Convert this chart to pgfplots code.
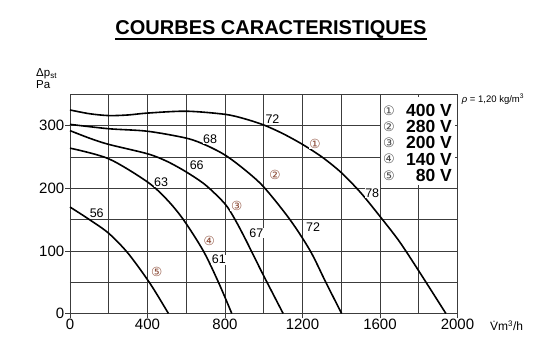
\documentclass[border=0pt]{standalone}
\usepackage{fontspec}
\setmainfont{Liberation Sans}
\newfontfamily\dejavu{DejaVu Sans}
\usepackage{pgfplots}
\pgfplotsset{compat=1.18}
\definecolor{circ}{RGB}{140,75,55}
\definecolor{gridc}{RGB}{60,60,60}
\begin{document}
\begin{tikzpicture}[x=1pt,y=1pt]
\path[use as bounding box] (-70,-33.5) rectangle (469,313.5);
\begin{axis}[at={(0,0)}, anchor=south west, scale only axis,
  width=387.5pt, height=219.2pt,
  xmin=0, xmax=2000, ymin=0, ymax=350,
  xtick={0,400,...,2000}, minor xtick={200,600,...,1800},
  ytick={0,100,200,300}, minor ytick={50,150,250},
  grid=both,
  major grid style={gridc, line width=0.7pt},
  minor grid style={gridc, line width=0.7pt},
  axis line style={gridc, line width=0.8pt},
  tick align=outside, major tick length=5pt, minor tick length=0pt,
  xtick pos=bottom, ytick pos=left,
  tick style={gridc, line width=0.7pt},
  ticklabel style={font=\fontsize{15}{15}\selectfont},
  /pgf/number format/assume math mode=true,
  /pgf/number format/1000 sep={},
  clip=false,
  nodes={font=\fontsize{12.5}{12.5}\selectfont, fill=white, inner sep=0.6pt},
]
\addplot[black, line width=1.6pt, smooth] coordinates {
(0,325) (100,319) (200,316) (300,317) (400,320) (600,323) (800,318) (900,311)
(1000,301) (1100,287) (1200,270) (1300,250) (1400,225) (1500,193) (1600,155)
(1700,115) (1800,68) (1940,0)};
\addplot[black, line width=1.6pt, smooth] coordinates {
(0,302) (200,295) (400,291) (600,280) (700,269) (800,253) (900,230) (1000,202)
(1135,150) (1240,100) (1320,50) (1402,0)};
\addplot[black, line width=1.6pt, smooth] coordinates {
(0,292) (100,280) (200,270) (400,255) (500,243) (600,226) (700,205) (800,175)
(850,151) (900,122) (950,91) (1000,60) (1100,0)};
\addplot[black, line width=1.6pt, smooth] coordinates {
(0,264) (200,247) (400,210) (500,182) (585,150) (688,100) (766,50) (835,0)};
\addplot[black, line width=1.6pt, smooth] coordinates {
(0,170) (100,150) (200,128) (300,96) (413,48) (508,0)};
\fill[white] (axis cs:1605,205) rectangle (axis cs:1985,345);
\node at (axis cs:1045,310) {72};
\node at (axis cs:1560,192) {78};
\node at (axis cs:723,279) {68};
\node at (axis cs:1255,138) {72};
\node at (axis cs:654,237) {66};
\node at (axis cs:962,128) {67};
\node at (axis cs:470,210) {63};
\node at (axis cs:768,86) {61};
\node at (axis cs:138,160) {56};
\node[text=circ, font=\dejavu\fontsize{12.5}{12.5}\selectfont] at (axis cs:1265,271) {①};
\node[text=circ, font=\dejavu\fontsize{12.5}{12.5}\selectfont] at (axis cs:1058,221) {②};
\node[text=circ, font=\dejavu\fontsize{12.5}{12.5}\selectfont] at (axis cs:860,172) {③};
\node[text=circ, font=\dejavu\fontsize{12.5}{12.5}\selectfont] at (axis cs:719,116) {④};
\node[text=circ, font=\dejavu\fontsize{12.5}{12.5}\selectfont] at (axis cs:447,67) {⑤};
\end{axis}
% title
\node[anchor=base, inner sep=0pt, font=\fontsize{20}{20}\selectfont\bfseries] (T) at (201,278.5) {COURBES CARACTERISTIQUES};
\draw[line width=1.8pt] ([yshift=-4pt]T.base west) -- ([yshift=-4pt]T.base east);
% axis labels
\node[anchor=base west, inner sep=0pt, font=\fontsize{11.5}{11.5}\selectfont] at (-34,237) {Δp\textsubscript{st}};
\node[anchor=base west, inner sep=0pt, font=\fontsize{11.5}{11.5}\selectfont] at (-34,224.5) {Pa};
\node[anchor=west, inner sep=0pt, font=\fontsize{12}{12}\selectfont] at (420,-12.5) {\.{V}m\textsuperscript{3}/h};
\node[anchor=west, inner sep=0pt, font=\fontsize{9.5}{9.5}\selectfont] at (391.7,214.5) {\textit{ρ} = 1,20 kg/m\textsuperscript{3}};
% legend
\foreach \c/\t/\y in {①/400 V/202.8, ②/280 V/186.8, ③/200 V/170.8, ④/140 V/154.5, ⑤/80 V/137.8} {
  \node[inner sep=0pt, text=black!70, font=\dejavu\fontsize{13}{13}\selectfont] at (319,\y) {\c};
  \node[anchor=east, inner sep=0pt, font=\fontsize{17.5}{17.5}\selectfont\bfseries] at (382,\y) {\t};
}
\end{tikzpicture}
\end{document}
